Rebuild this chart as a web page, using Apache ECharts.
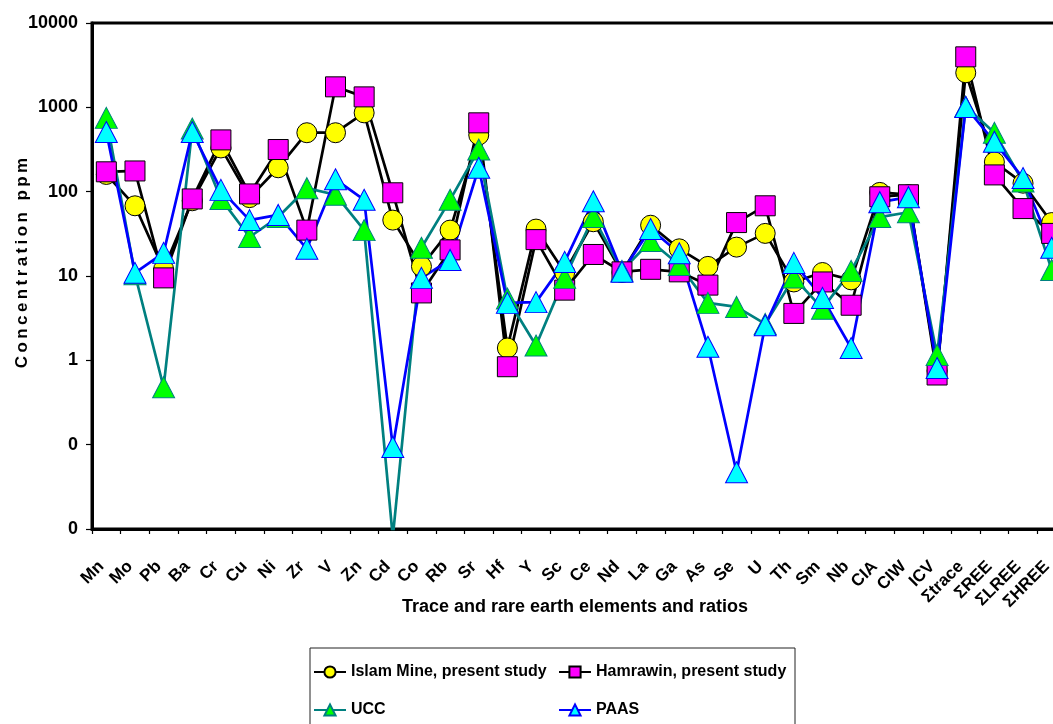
<!DOCTYPE html>
<html>
<head>
<meta charset="utf-8">
<script src="https://cdn.jsdelivr.net/npm/echarts@6/dist/echarts.min.js"></script>
<style>
html,body{margin:0;padding:0;background:#fff;}
#chart{width:1053px;height:724px;}
</style>
</head>
<body>
<div id="chart"></div>
<script>
var categories = ['Mn','Mo','Pb','Ba','Cr','Cu','Ni','Zr','V','Zn','Cd','Co','Rb','Sr','Hf','Y','Sc','Ce','Nd','La','Ga','As','Se','U','Th','Sm','Nb','CIA','CIW','ICV','Σtrace','ΣREE','ΣLREE','ΣHREE'];
var islamMine = [160, 68, 12, 78, 330, 85, 192, 500, 500, 860, 46, 13, 35, 470, 1.4, 36, 11, 44, 11, 40, 21, 13, 22, 32, 8.5, 11, 9, 98, 92, 0.75, 2570, 225, 126, 43];
var hamrawin = [172, 176, 9.5, 82, 411, 94, 316, 35, 1750, 1330, 97, 6.3, 20.4, 655, 0.84, 27, 6.8, 18, 11.2, 12, 11.2, 7.8, 43, 68, 3.6, 8.5, 4.5, 87, 92, 0.67, 3970, 158, 63, 32];
var ucc = [750, 10.5, 0.48, 560, 82, 29, 50, 110, 92, 35, 0.008, 21.6, 80, 316, 5.4, 1.5, 9.5, 50, 11.5, 26, 13.5, 4.8, 4.3, 2.7, 9.6, 4.1, 11.5, 50, 57, 1.16, 1020, 500, 132, 11.8];
var paas = [510, 10.9, 18.8, 510, 105, 46, 53, 21, 140, 80, 0.094, 9.5, 15.5, 192, 4.8, 4.9, 14.7, 77, 11.2, 36, 18.6, 1.45, 0.047, 2.6, 14.3, 5.5, 1.4, 75, 86, 0.81, 1010, 390, 145, 21.6];
var seriesNames = ['Islam Mine, present study', 'Hamrawin, present study', 'UCC', 'PAAS'];
var yTitle = 'C\u2009o\u2009n\u2009c\u2009e\u2009n\u2009t\u2009r\u2009a\u2009t\u2009i\u2009o\u2009n\u2009 \u2009p\u2009p\u2009m';
var xTitle = 'Trace and rare earth elements and ratios';

var FONT = '"Liberation Sans", Arial, sans-serif';
var chart = echarts.init(document.getElementById('chart'), null, {renderer: 'canvas'});

function mk(name, data, lineColor, symbol, fill, border) {
  return {
    name: name, type: 'line', data: data,
    symbol: symbol, symbolSize: symbol === 'triangle' ? [22, 21] : 20,
    lineStyle: {color: lineColor, width: 2.7},
    itemStyle: {color: fill, borderColor: border, borderWidth: 1},
    emphasis: {disabled: true},
    clip: true
  };
}

var legendText = {fontSize: 16, fontWeight: 'bold', color: '#000', fontFamily: FONT};

chart.setOption({
  animation: false,
  backgroundColor: '#fff',
  grid: {left: 92, top: 23, width: 974, height: 506, show: true, borderColor: '#000', borderWidth: 3, backgroundColor: 'transparent', containLabel: false, outerBoundsMode: 'none'},
  xAxis: {
    type: 'category', data: categories, boundaryGap: true,
    axisLine: {lineStyle: {color: '#000', width: 3}},
    axisTick: {show: true, length: 5, lineStyle: {color: '#000', width: 1.2}, alignWithLabel: false},
    axisLabel: {interval: 0, rotate: 45, margin: 30, fontSize: 17, fontWeight: 'bold', color: '#000', fontFamily: FONT, padding: [0, 7, 12, 0], hideOverlap: false},
    splitLine: {show: false}
  },
  yAxis: {
    type: 'log', logBase: 10, min: 0.01, max: 10000, interval: 1,
    axisLine: {show: true, lineStyle: {color: '#000', width: 3}},
    axisTick: {show: true, length: 6, lineStyle: {color: '#000', width: 1.2}},
    minorTick: {show: false},
    axisLabel: {margin: 14, fontSize: 18, fontWeight: 'bold', color: '#000', fontFamily: FONT,
      formatter: function (v) { return String(Math.round(v)); }},
    splitLine: {show: false}
  },
  legend: [
    {data: [seriesNames[0], seriesNames[2]], left: 313, top: 664, padding: 0, orient: 'vertical', itemGap: 22, itemWidth: 32, itemHeight: 14, textStyle: legendText, selectedMode: false},
    {data: [seriesNames[1], seriesNames[3]], left: 558, top: 664, padding: 0, orient: 'vertical', itemGap: 22, itemWidth: 32, itemHeight: 14, textStyle: legendText, selectedMode: false}
  ],
  graphic: [
    {type: 'rect', shape: {x: 310, y: 648, width: 485, height: 120}, style: {fill: 'none', stroke: '#222', lineWidth: 1}, z: 0, silent: true},
    {type: 'text', x: 22, y: 263, rotation: Math.PI / 2, style: {text: yTitle, align: 'center', verticalAlign: 'middle', font: 'bold 17px ' + FONT, fill: '#000'}, silent: true},
    {type: 'text', x: 575, y: 607, style: {text: xTitle, align: 'center', verticalAlign: 'middle', font: 'bold 18px ' + FONT, fill: '#000'}, silent: true}
  ],
  series: [
    mk(seriesNames[0], islamMine, '#000', 'circle', '#FFFF00', '#000'),
    mk(seriesNames[1], hamrawin, '#000', 'rect', '#FF00FF', '#000'),
    mk(seriesNames[2], ucc, '#008080', 'triangle', '#00FF00', '#008080'),
    mk(seriesNames[3], paas, '#0000FF', 'triangle', '#00FFFF', '#0000FF')
  ]
});
</script>
</body>
</html>
